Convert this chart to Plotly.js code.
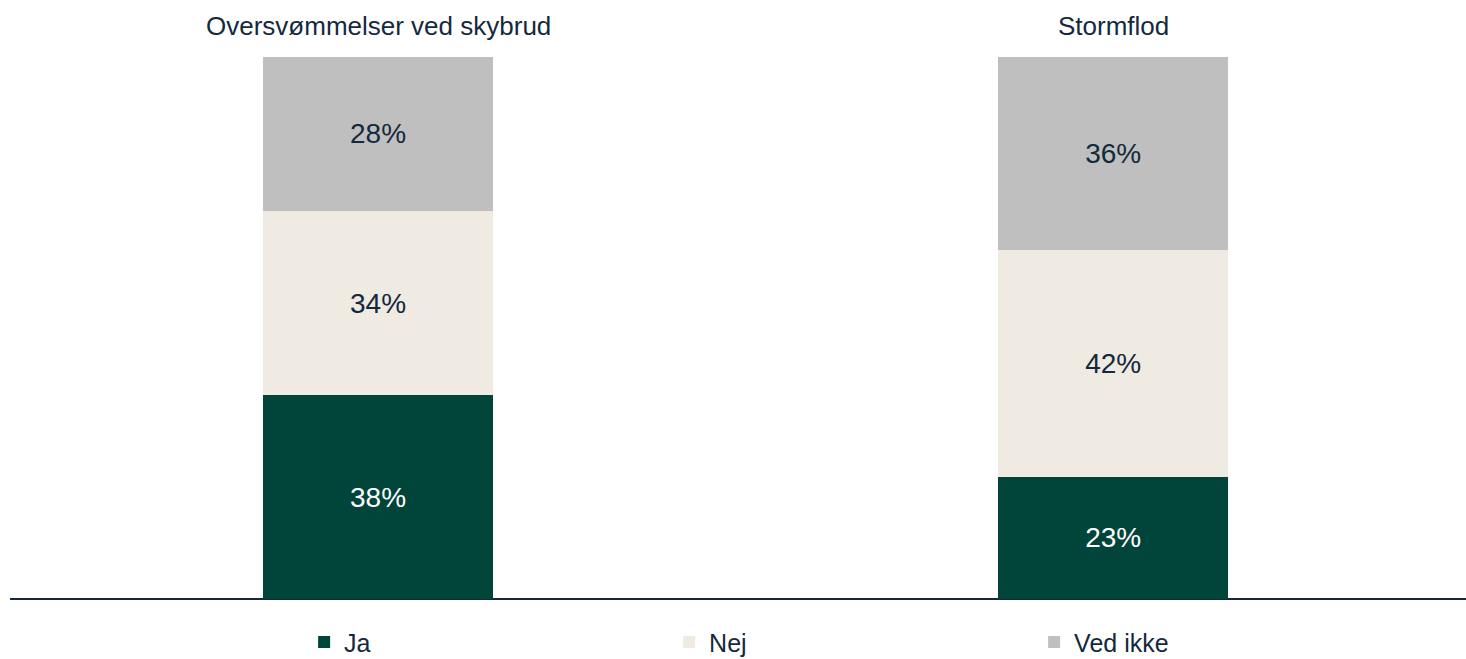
<!DOCTYPE html>
<html><head><meta charset="utf-8">
<script src="https://cdn.plot.ly/plotly-3.0.1.min.js"></script>
<style>html,body{margin:0;padding:0;background:#fff}#chart{width:1466px;height:659px}</style>
</head><body><div id="chart"></div>
<script>
const categories = ["Oversvømmelser ved skybrud", "Stormflod"];
const seriesNames = ["Ja", "Nej", "Ved ikke"];
const jaValues = [37.6, 22.6];
const nejValues = [34.0, 41.8];
const vedIkkeValues = [28.4, 35.6];

const colors = ["#00443a", "#efeae2", "#bfbfbf"];
const textColors = ["#ffffff", "#14293d", "#14293d"];
const allValues = [jaValues, nejValues, vedIkkeValues];
const navy = "#14293d";
const fontFam = "Liberation Sans, Arial, Helvetica, sans-serif";

const traces = seriesNames.map((n, i) => ({
  type: "bar",
  name: n,
  x: categories,
  y: allValues[i],
  width: 0.313,
  marker: {color: colors[i], line: {width: 0}},
  texttemplate: "%{y:.0f}%",
  textposition: "inside",
  insidetextanchor: "middle",
  textangle: 0,
  textfont: {family: fontFam, size: 28, color: textColors[i]},
  hoverinfo: "skip"
}));

const annotations = categories.map(c => ({
  x: c, xref: "x", y: 1, yref: "paper", yanchor: "middle", yshift: 31,
  text: c, showarrow: false,
  font: {family: fontFam, size: 26, color: navy}
}));

const layout = {
  width: 1466, height: 659,
  margin: {l: 10, r: 0, t: 57, b: 60, pad: 0, autoexpand: false},
  barmode: "stack",
  paper_bgcolor: "#ffffff", plot_bgcolor: "#ffffff",
  font: {family: fontFam, color: navy, size: 25},
  xaxis: {range: [-0.5007, 1.480], showticklabels: false, showgrid: false, zeroline: false, showline: false, ticks: ""},
  yaxis: {range: [0, 100], showticklabels: false, showgrid: false, zeroline: true, zerolinecolor: navy, zerolinewidth: 2, showline: false, ticks: ""},
  showlegend: true,
  legend: {orientation: "h", x: 0.202, xanchor: "left", y: -0.080, yanchor: "middle",
    entrywidth: 320, entrywidthmode: "pixels", traceorder: "normal",
    font: {family: fontFam, size: 25, color: navy}, itemclick: false},
  annotations: annotations
};

Plotly.newPlot("chart", traces, layout, {displayModeBar: false, staticPlot: true});
</script></body></html>
